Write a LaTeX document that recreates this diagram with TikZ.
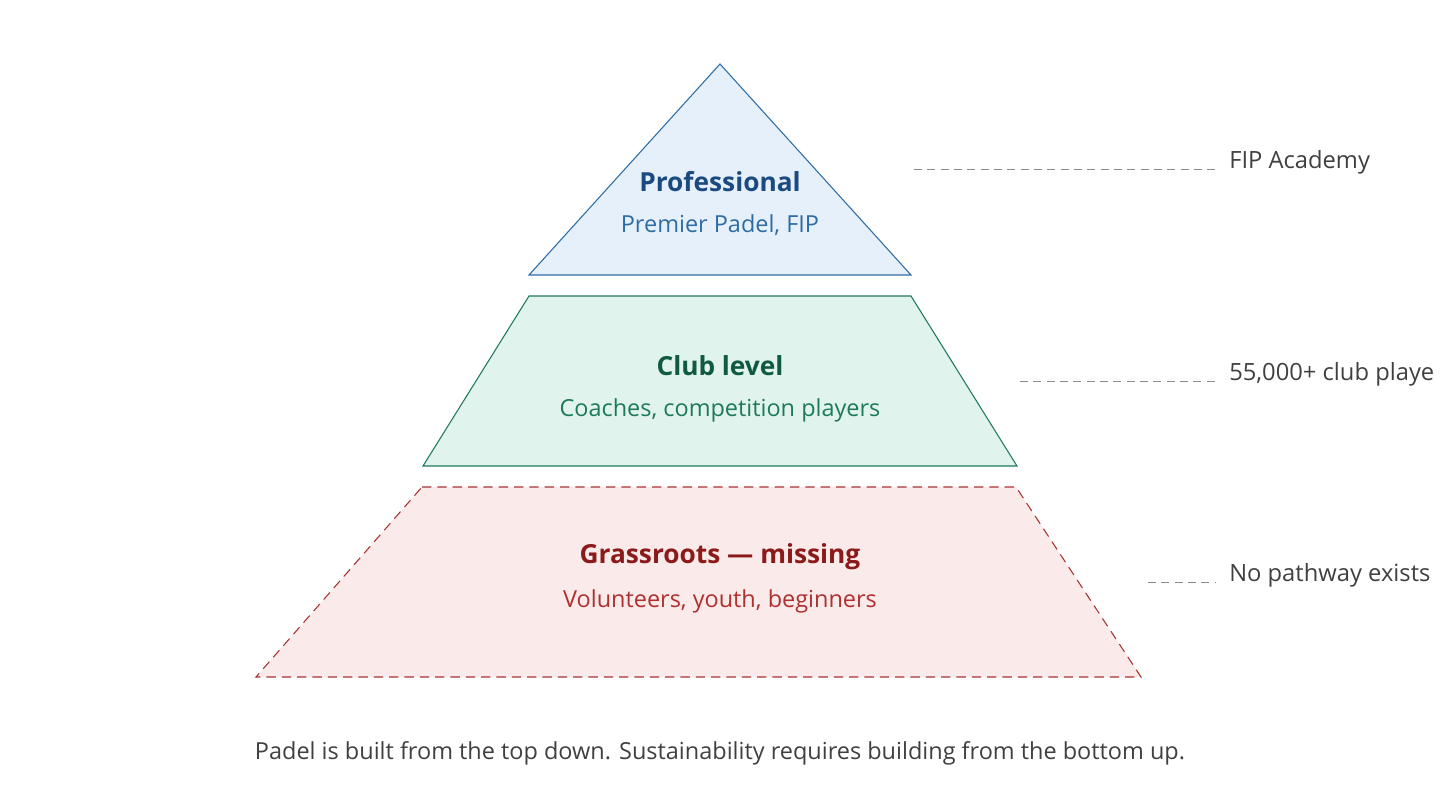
\documentclass[tikz,border=0pt]{standalone}
\usepackage{fontspec}
\setmainfont{Open Sans}
\definecolor{proStroke}{HTML}{2E6DA4}
\definecolor{proFill}{HTML}{E6F0FA}
\definecolor{proTitle}{HTML}{1A4A80}
\definecolor{proSub}{HTML}{2E6DA4}
\definecolor{clubStroke}{HTML}{1F7A5A}
\definecolor{clubFill}{HTML}{E0F3EC}
\definecolor{clubTitle}{HTML}{0F5A40}
\definecolor{clubSub}{HTML}{1F7A5A}
\definecolor{grassStroke}{HTML}{A83232}
\definecolor{grassFill}{HTML}{FBEAEA}
\definecolor{grassTitle}{HTML}{8B1A1A}
\definecolor{grassSub}{HTML}{B03030}
\definecolor{noteText}{HTML}{404040}
\definecolor{leader}{HTML}{8A8A8A}
\begin{document}
\begin{tikzpicture}[x=0.75pt,y=-0.75pt,
  title/.style={font=\fontsize{19.7}{22}\selectfont\bfseries, inner sep=0pt, anchor=center},
  sub/.style={font=\fontsize{17.6}{20}\selectfont, inner sep=0pt, anchor=center},
  note/.style={font=\fontsize{17.8}{20}\selectfont, text=noteText, inner sep=0pt, anchor=west},
  leaderline/.style={draw=leader, line width=0.75pt, dash pattern=on 6pt off 4pt}]
\useasboundingbox (0,0) rectangle (1440,804);
% tiers
\draw[draw=proStroke, fill=proFill, line width=0.8pt, line join=miter] (720,64) -- (911,275) -- (529,275) -- cycle;
\draw[draw=clubStroke, fill=clubFill, line width=0.8pt] (529,296) -- (911,296) -- (1017,466) -- (423,466) -- cycle;
\draw[draw=grassStroke, fill=grassFill, line width=0.8pt, dash pattern=on 7pt off 4.5pt] (422,487) -- (1016,487) -- (1141,677) -- (256,677) -- cycle;
% tier texts
\node[title, text=proTitle] (proT) at (720,182) {Professional};
\node[sub, text=proSub] (proS) at (720,225) {Premier Padel, FIP};
\node[title, text=clubTitle] (clubT) at (720,366) {Club level};
\node[sub, text=clubSub] (clubS) at (720,410) {Coaches, competition players};
\node[title, text=grassTitle] (grassT) at (720,557) {Grassroots — missing};
\node[sub, text=grassSub] (grassS) at (720,601) {Volunteers, youth, beginners};
% side notes
\coordinate (l1a) at (914,169);
\node[note] (n1) at (1229,162) {FIP Academy};
\draw[leaderline] (l1a) -- (1216,169);
\coordinate (l2a) at (1020,381);
\node[note] (n2) at (1229,374) {55,000+ club playe};
\draw[leaderline] (l2a) -- (1216,381);
\coordinate (l3a) at (1148,582);
\node[note] (n3) at (1229,575) {No pathway exists};
\draw[leaderline] (l3a) -- (1216,582);
% caption
\node[sub, text=noteText] (cap) at (720,753) {Padel is built from the top down. Sustainability requires building from the bottom up.};
\end{tikzpicture}
\end{document}
